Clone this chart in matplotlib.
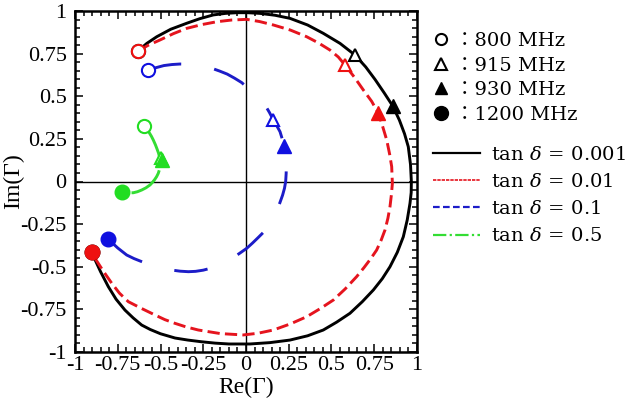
import numpy as np
import matplotlib
matplotlib.use('Agg')
import matplotlib.pyplot as plt
from matplotlib.lines import Line2D
from matplotlib.ticker import MultipleLocator, FixedLocator
from matplotlib.font_manager import FontProperties

# reflection coefficient traces (800 -> 1200 MHz)
re_001 = [-0.63, -0.58, -0.522, -0.44, -0.347, -0.27, -0.191, -0.12, -0.054, 0.01, 0.082, 0.17, 0.257,
          0.36, 0.452, 0.55, 0.637, 0.70, 0.755, 0.808, 0.858, 0.897, 0.927, 0.949, 0.962, 0.967, 0.966,
          0.959, 0.943, 0.92, 0.885, 0.842, 0.797, 0.745, 0.68, 0.608, 0.53, 0.452, 0.36, 0.257, 0.14,
          0.023, -0.1, -0.18, -0.26, -0.34, -0.415, -0.5, -0.56, -0.61, -0.66, -0.708, -0.76, -0.805,
          -0.85, -0.88, -0.899]
im_001 = [0.767, 0.81, 0.849, 0.893, 0.928, 0.955, 0.977, 0.986, 0.99, 0.99, 0.986, 0.975, 0.957,
          0.918, 0.869, 0.81, 0.742, 0.672, 0.598, 0.52, 0.443, 0.36, 0.28, 0.204, 0.1, 0.0, -0.065,
          -0.128, -0.225, -0.324, -0.415, -0.5, -0.57, -0.636, -0.705, -0.773, -0.825, -0.871, -0.905,
          -0.93, -0.945, -0.953, -0.953, -0.948, -0.94, -0.93, -0.918, -0.893, -0.868, -0.842, -0.80,
          -0.754, -0.69, -0.617, -0.53, -0.465, -0.413]

re_01 = [-0.63, -0.57, -0.503, -0.425, -0.347, -0.26, -0.171, -0.085, 0.004, 0.08, 0.16, 0.26, 0.355,
         0.425, 0.491, 0.54, 0.579, 0.635, 0.686, 0.735, 0.774, 0.80, 0.823, 0.84, 0.852, 0.856, 0.85,
         0.842, 0.83, 0.813, 0.79, 0.764, 0.73, 0.69, 0.647, 0.58, 0.511, 0.435, 0.355, 0.26, 0.16,
         0.07, -0.016, -0.15, -0.279, -0.35, -0.415, -0.475, -0.532, -0.61, -0.688, -0.74, -0.785,
         -0.835, -0.883, -0.899]
im_01 = [0.767, 0.80, 0.83, 0.867, 0.898, 0.92, 0.937, 0.947, 0.951, 0.938, 0.918, 0.888, 0.849,
         0.812, 0.771, 0.73, 0.683, 0.61, 0.537, 0.47, 0.40, 0.32, 0.243, 0.16, 0.087, -0.011, -0.08,
         -0.148, -0.215, -0.284, -0.345, -0.402, -0.452, -0.505, -0.558, -0.63, -0.695, -0.745, -0.793,
         -0.835, -0.871, -0.89, -0.9, -0.892, -0.871, -0.853, -0.832, -0.81, -0.783, -0.745, -0.705,
         -0.655, -0.597, -0.525, -0.45, -0.413]

re_1 = [-0.571, -0.525, -0.48, -0.433, -0.386, -0.338, -0.29, -0.245, -0.2, -0.155, -0.11, -0.067,
        -0.025, 0.013, 0.05, 0.082, 0.111, 0.137, 0.16, 0.18, 0.199, 0.213, 0.224, 0.231, 0.235, 0.235,
        0.232, 0.225, 0.214, 0.198, 0.18, 0.16, 0.14, 0.105, 0.07, 0.037, 0.004, -0.04, -0.08, -0.115,
        -0.152, -0.2, -0.25, -0.295, -0.337, -0.385, -0.43, -0.475, -0.522, -0.565, -0.61, -0.655,
        -0.698, -0.75, -0.805]
im_1 = [0.654, 0.668, 0.68, 0.686, 0.689, 0.688, 0.685, 0.676, 0.664, 0.648, 0.63, 0.606, 0.58, 0.546,
        0.51, 0.48, 0.449, 0.405, 0.361, 0.327, 0.292, 0.246, 0.2, 0.15, 0.1, 0.05, 0.0, -0.04, -0.08,
        -0.125, -0.17, -0.213, -0.255, -0.295, -0.33, -0.362, -0.392, -0.423, -0.45, -0.472, -0.49,
        -0.507, -0.52, -0.527, -0.529, -0.526, -0.52, -0.513, -0.503, -0.488, -0.47, -0.452, -0.431,
        -0.39, -0.339]

re_5 = [-0.595, -0.58, -0.565, -0.553, -0.542, -0.53, -0.52, -0.511, -0.505, -0.501, -0.5, -0.505,
        -0.513, -0.523, -0.535, -0.548, -0.561, -0.585, -0.61, -0.635, -0.659, -0.69, -0.727]
im_5 = [0.326, 0.305, 0.285, 0.265, 0.243, 0.216, 0.19, 0.165, 0.14, 0.12, 0.1, 0.073, 0.048, 0.028,
        0.01, -0.006, -0.02, -0.037, -0.05, -0.06, -0.066, -0.066, -0.06]

# marker points: 800, 915, 930, 1200 MHz for each loss tangent
f800_re = [-0.63, -0.63, -0.571, -0.595]
f800_im = [0.767, 0.767, 0.654, 0.326]
f915_re = [0.637, 0.579, 0.16, -0.5]
f915_im = [0.742, 0.683, 0.361, 0.14]
f930_re = [0.858, 0.774, 0.224, -0.494]
f930_im = [0.443, 0.40, 0.208, 0.126]
f1200_re = [-0.899, -0.899, -0.805, -0.727]
f1200_im = [-0.413, -0.413, -0.339, -0.06]

labels = [r'$\tan\,\delta\, =\, 0.001$', r'$\tan\,\delta\, =\, 0.01$',
          r'$\tan\,\delta\, =\, 0.1$', r'$\tan\,\delta\, =\, 0.5$']
colors = ['black', '#e5141e', '#1c1cc8', '#33dd33']
mcolors = ['black', '#ee1111', '#1010e0', '#22dd22']
styles = ['-', (0, (4.2, 1.8)), (0, (11.5, 11.5)), (0, (13, 1.4, 0.8, 1.4))]
freq_labels = ['800 MHz', '915 MHz', '930 MHz', '1200 MHz']
tick_vals = [-1, -0.75, -0.5, -0.25, 0, 0.25, 0.5, 0.75, 1]
tick_text = ['-1', '-0.75', '-0.5', '-0.25', '0', '0.25', '0.5', '0.75', '1']

plt.rcParams['font.family'] = 'Liberation Serif'
plt.rcParams['mathtext.fontset'] = 'dejavuserif'

fig = plt.figure(figsize=(6.27, 4.09), dpi=100)
ax = fig.add_axes([75/627, 1 - 352/409, 342/627, 341/409])

ax.axhline(0, color='black', lw=1.0, zorder=1)
ax.axvline(0, color='black', lw=1.0, zorder=1)

curves = [(re_001, im_001), (re_01, im_01), (re_1, im_1), (re_5, im_5)]
for (xs, ys), c, ls in zip(curves, colors, styles):
    ax.plot(xs, ys, color=c, ls=ls, lw=2.1, zorder=2)

for i in range(4):
    ax.plot(f800_re[i], f800_im[i], 'o', ms=9.5, mfc='white', mec=mcolors[i], mew=1.5, zorder=4)
    ax.plot(f915_re[i], f915_im[i], '^', ms=9, mfc='white', mec=mcolors[i], mew=1.5, zorder=4)
    ax.plot(f930_re[i], f930_im[i], '^', ms=9.5, color=mcolors[i], zorder=5)
    ax.plot(f1200_re[i], f1200_im[i], 'o', ms=10.5, color=mcolors[i], zorder=5)

ax.set_xlim(-1, 1)
ax.set_ylim(-1, 1)
ax.xaxis.set_major_locator(FixedLocator(tick_vals))
ax.yaxis.set_major_locator(FixedLocator(tick_vals))
ax.set_xticklabels(tick_text)
ax.set_yticklabels(tick_text)
ax.xaxis.set_minor_locator(MultipleLocator(0.05))
ax.yaxis.set_minor_locator(MultipleLocator(0.05))
ax.tick_params(which='both', direction='in', top=True, right=True, labelsize=16, width=1.1)
ax.tick_params(which='major', length=6)
ax.tick_params(which='minor', length=3.5)
ax.tick_params(axis='x', pad=3)
ax.tick_params(axis='y', pad=6)
for s in ax.spines.values():
    s.set_linewidth(1.8)
ax.set_xlabel('Re(\u0393)', fontsize=17, labelpad=1)
ax.set_ylabel('Im(\u0393)', fontsize=17)
ax.yaxis.set_label_coords(-0.15, 0.5)

# marker legend
mk_handles = [
    Line2D([], [], ls='none', marker='o', ms=8, mfc='white', mec='black', mew=1.5),
    Line2D([], [], ls='none', marker='^', ms=8, mfc='white', mec='black', mew=1.5),
    Line2D([], [], ls='none', marker='^', ms=9, color='black'),
    Line2D([], [], ls='none', marker='o', ms=10, color='black'),
]
fp = FontProperties(family=['DejaVu Serif', 'Noto Sans CJK JP'], size=14)
fig.legend(mk_handles, ['\uff1a' + f for f in freq_labels], prop=fp, frameon=False,
           loc='upper left', bbox_to_anchor=(432/627, 1 - 32/409), handlelength=0.9,
           handletextpad=0.3, labelspacing=0.34, borderpad=0, borderaxespad=0)

ln_handles = [
    Line2D([], [], color=colors[0], lw=1.6),
    Line2D([], [], color=colors[1], ls=(0, (2, 0.6)), lw=1.2),
    Line2D([], [], color=colors[2], ls=(0, (3, 1.5)), lw=1.6),
    Line2D([], [], color=colors[3], ls=(0, (6, 1.5, 1, 1.5)), lw=1.6),
]
fig.legend(ln_handles, labels, prop=FontProperties(family='DejaVu Serif', size=14), frameon=False,
           loc='upper left', bbox_to_anchor=(433/627, 1 - 146/409), handlelength=2.4,
           handletextpad=0.6, labelspacing=0.47, borderpad=0, borderaxespad=0)

fig.savefig('out.png', dpi=100)
